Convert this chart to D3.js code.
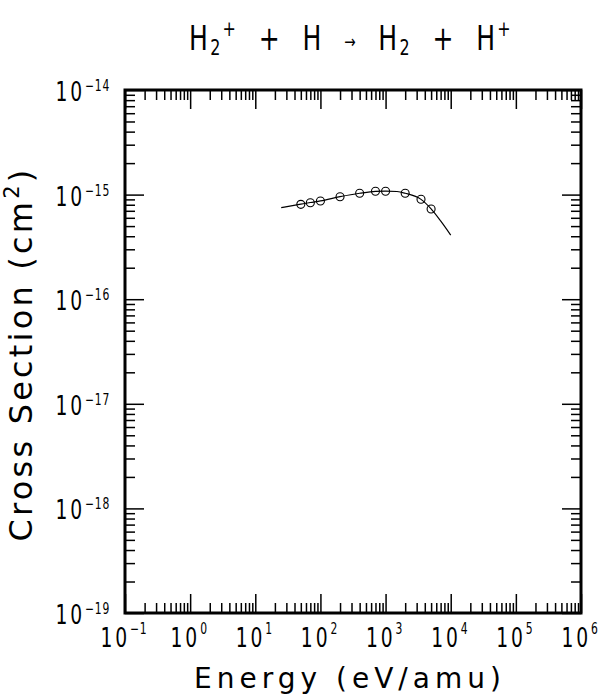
<!DOCTYPE html>
<html>
<head>
<meta charset="utf-8">
<script src="https://cdn.jsdelivr.net/npm/d3@7/dist/d3.min.js"></script>
<style>
body { margin: 0; background: #fff; }
svg text { font-family: "DejaVu Sans", sans-serif; fill: #000; }
</style>
</head>
<body>
<svg></svg>
<script>
var width = 598,
    height = 696;

// fitted curve
var curveEnergy = [25, 50, 70, 100, 200, 400, 700, 1000, 1500, 2000, 3500, 5000, 7000, 10000];
var curveSigma = [7.5e-16, 8.1e-16, 8.4e-16, 8.7e-16, 9.55e-16, 1.03e-15, 1.075e-15, 1.08e-15, 1.07e-15, 1.03e-15, 9.0e-16, 7.3e-16, 5.6e-16, 4.1e-16];

// measured points (circles)
var pointEnergy = [50, 70, 100, 200, 400, 700, 1000, 2000, 3500, 5000];
var pointSigma = [8.07e-16, 8.37e-16, 8.68e-16, 9.55e-16, 1.03e-15, 1.076e-15, 1.076e-15, 1.03e-15, 9.02e-16, 7.28e-16];

// tick labels (powers of ten)
var xExponents = [-1, 0, 1, 2, 3, 4, 5, 6];
var yExponents = [-19, -18, -17, -16, -15, -14];

var plotLeft = 125, plotRight = 581, plotTop = 90, plotBottom = 613;

var svg = d3.select("svg")
    .attr("width", width)
    .attr("height", height);

var x = d3.scaleLog().domain([1e-1, 1e6]).range([plotLeft, plotRight]);
var y = d3.scaleLog().domain([1e-19, 1e-14]).range([plotBottom, plotTop]);

function minors(exps) {
  var out = [];
  for (var i = 0; i < exps.length - 1; i++) {
    for (var k = 2; k <= 9; k++) out.push(k * Math.pow(10, exps[i]));
  }
  return out;
}
var xMajor = xExponents.map(function(e) { return Math.pow(10, e); });
var yMajor = yExponents.map(function(e) { return Math.pow(10, e); });
var xMinor = minors(xExponents);
var yMinor = minors(yExponents);

function tickAxis(axis, values, size, transform) {
  var g = svg.append("g")
      .attr("transform", transform)
      .call(axis.tickValues(values).tickSize(size).tickSizeOuter(0).tickFormat(""));
  g.select(".domain").remove();
  g.selectAll(".tick line").attr("stroke", "#000").attr("stroke-width", 1.5);
}

// inward ticks on all four sides
tickAxis(d3.axisTop(x), xMajor, 19, "translate(0," + plotBottom + ")");
tickAxis(d3.axisTop(x), xMinor, 10, "translate(0," + plotBottom + ")");
tickAxis(d3.axisBottom(x), xMajor, 19, "translate(0," + plotTop + ")");
tickAxis(d3.axisBottom(x), xMinor, 10, "translate(0," + plotTop + ")");
tickAxis(d3.axisRight(y), yMajor, 19, "translate(" + plotLeft + ",0)");
tickAxis(d3.axisRight(y), yMinor, 10, "translate(" + plotLeft + ",0)");
tickAxis(d3.axisLeft(y), yMajor, 19, "translate(" + plotRight + ",0)");
tickAxis(d3.axisLeft(y), yMinor, 10, "translate(" + plotRight + ",0)");

svg.append("rect")
    .attr("x", plotLeft)
    .attr("y", plotTop)
    .attr("width", plotRight - plotLeft)
    .attr("height", plotBottom - plotTop)
    .attr("fill", "none")
    .attr("stroke", "#000")
    .attr("stroke-width", 3);

// x tick labels
var xl = svg.selectAll(".xlab")
    .data(xExponents)
  .enter().append("text")
    .attr("class", "xlab")
    .attr("text-anchor", "middle")
    .attr("transform", function(d) { return "translate(" + (x(Math.pow(10, d)) - 1) + ",647) scale(0.72,1)"; })
    .style("font-size", "26px")
    .style("letter-spacing", "4px");
xl.append("tspan").text("10");
xl.append("tspan")
    .attr("dy", -13)
    .style("font-size", "15px")
    .style("letter-spacing", "1px")
    .text(function(d) { return d < 0 ? "\u2212" + (-d) : d; });

// y tick labels
var yl = svg.selectAll(".ylab")
    .data(yExponents)
  .enter().append("text")
    .attr("class", "ylab")
    .attr("text-anchor", "end")
    .attr("transform", function(d) { return "translate(110," + (y(Math.pow(10, d)) + 11) + ") scale(0.72,1)"; })
    .style("font-size", "26px")
    .style("letter-spacing", "4px");
yl.append("tspan").text("10");
yl.append("tspan")
    .attr("dy", -10)
    .style("font-size", "15px")
    .style("letter-spacing", "1px")
    .text(function(d) { return "\u2212" + (-d); });

// curve
var line = d3.line()
    .x(function(d) { return x(d[0]); })
    .y(function(d) { return y(d[1]); })
    .curve(d3.curveMonotoneX);

svg.append("path")
    .datum(d3.zip(curveEnergy, curveSigma))
    .attr("d", line)
    .attr("fill", "none")
    .attr("stroke", "#000")
    .attr("stroke-width", 1.2);

svg.selectAll(".pt")
    .data(d3.zip(pointEnergy, pointSigma))
  .enter().append("circle")
    .attr("class", "pt")
    .attr("cx", function(d) { return x(d[0]); })
    .attr("cy", function(d) { return y(d[1]); })
    .attr("r", 4)
    .attr("fill", "none")
    .attr("stroke", "#000")
    .attr("stroke-width", 1.1);

// title
var title = svg.append("text")
    .attr("text-anchor", "middle")
    .attr("transform", "translate(351,50) scale(0.76,1)")
    .style("font-size", "33px")
    .style("letter-spacing", "3px")
    .attr("xml:space", "preserve");
title.append("tspan").text("H");
title.append("tspan").attr("dy", 5).style("font-size", "21px").text("2");
title.append("tspan").attr("dy", -19).style("font-size", "21px").text("+");
title.append("tspan").attr("dy", 14).text("  +  H  ");
title.append("tspan").attr("dy", -2).style("font-size", "18px").text("\u2192");
title.append("tspan").attr("dy", 2).text("  H");
title.append("tspan").attr("dy", 5).style("font-size", "21px").text("2");
title.append("tspan").attr("dy", -5).text("  +  H");
title.append("tspan").attr("dy", -14).style("font-size", "21px").text("+");

// axis titles
svg.append("text")
    .attr("text-anchor", "middle")
    .attr("x", 350)
    .attr("y", 688)
    .style("font-size", "28px")
    .style("letter-spacing", "5px")
    .text("Energy (eV/amu)");

var yt = svg.append("text")
    .attr("text-anchor", "middle")
    .attr("transform", "translate(32,354) rotate(-90)")
    .style("font-size", "32px")
    .style("letter-spacing", "3.2px");
yt.append("tspan").text("Cross Section (cm");
yt.append("tspan").attr("dy", -13).style("font-size", "21px").text("2");
yt.append("tspan").attr("dy", 13).text(")");
</script>
</body>
</html>
